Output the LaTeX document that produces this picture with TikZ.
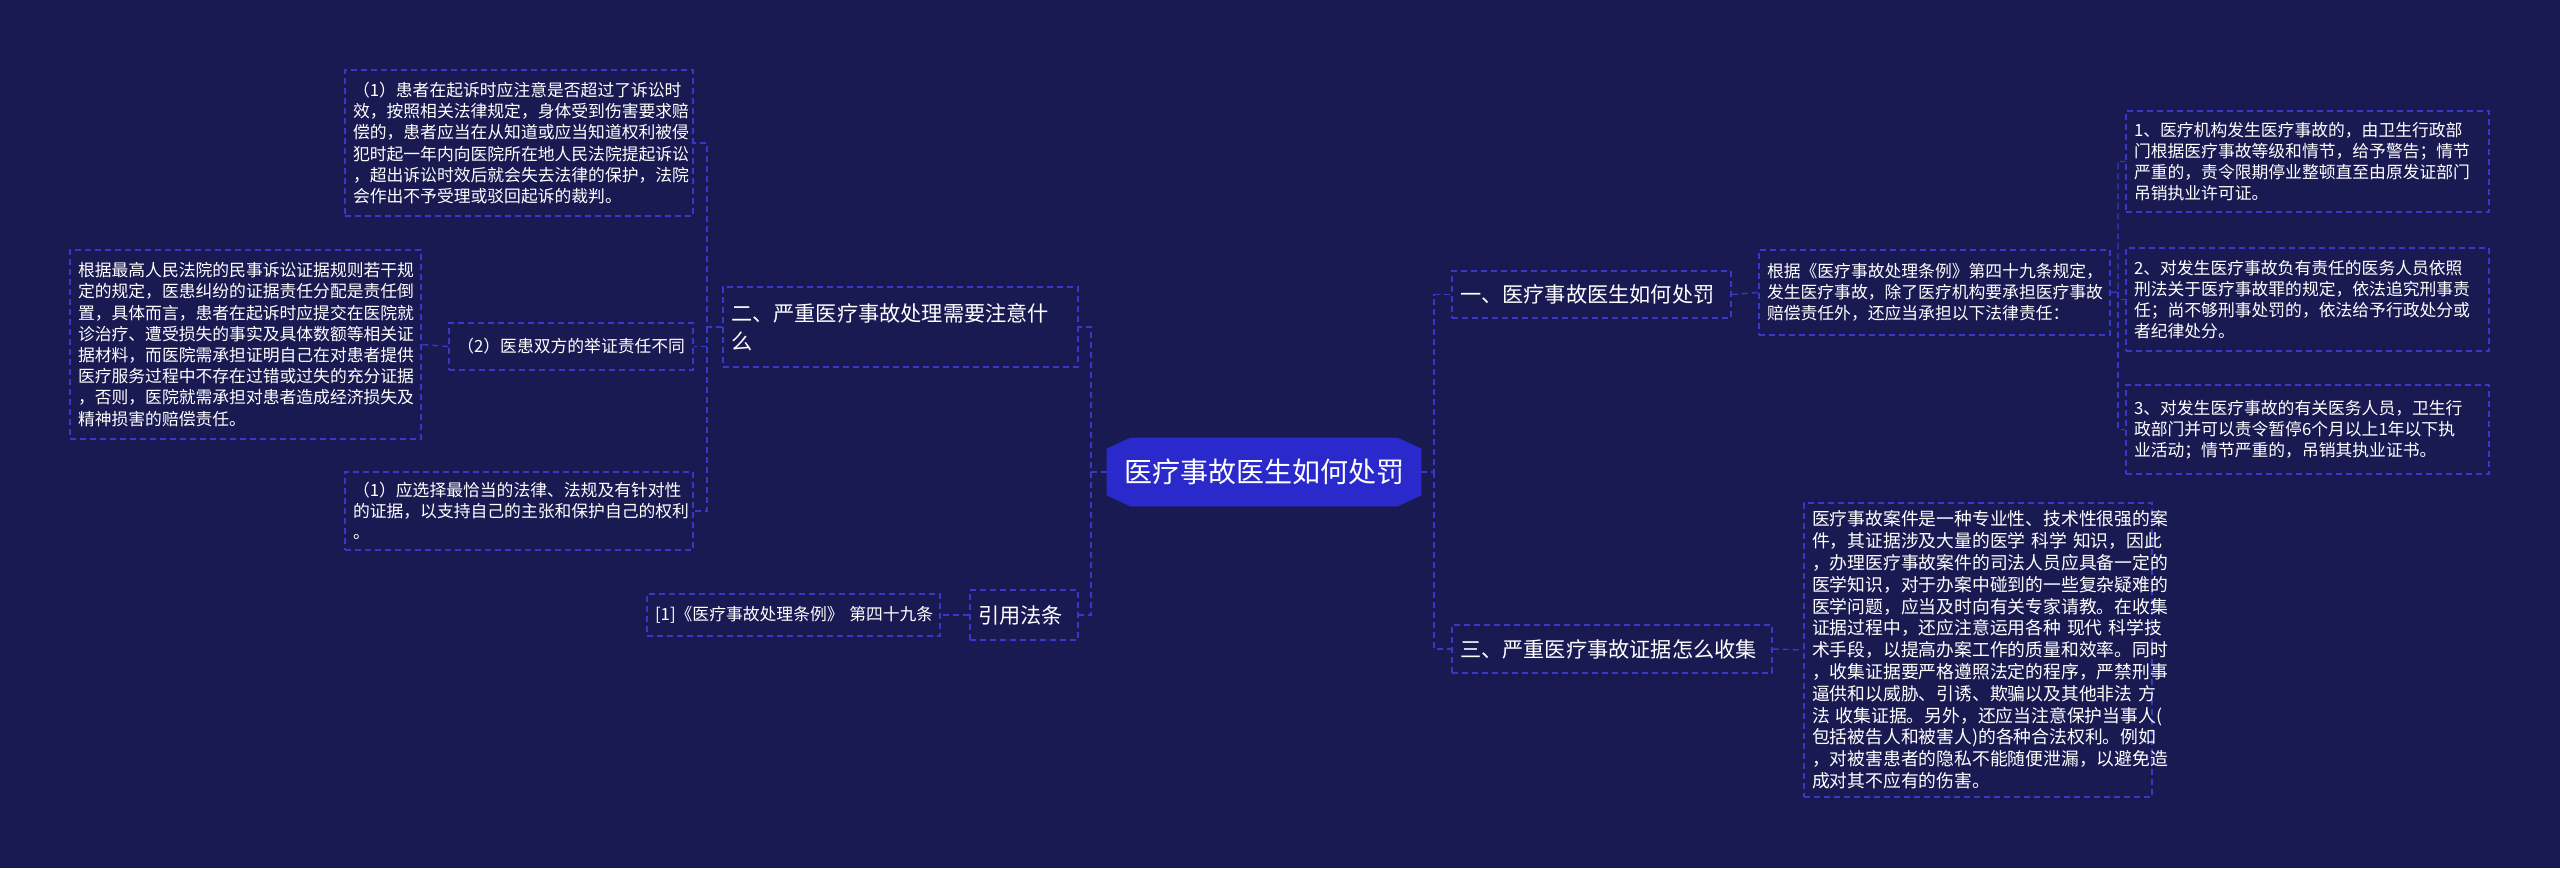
\documentclass[tikz,border=0pt]{standalone}
\usepackage{fontspec}
\setmainfont{Noto Sans CJK SC}
\usetikzlibrary{shapes.misc}
\definecolor{bg}{HTML}{1A1A52}
\definecolor{bd}{HTML}{3838C8}
\definecolor{cf}{HTML}{2A2ACC}
\tikzset{
 box/.style={draw=bd,dashed,dash pattern=on 3pt off 2pt,line width=0.7pt,text=white,align=left,inner sep=0pt,font=\fontsize{8.4}{10.6}\selectfont},
 big/.style={box,font=\fontsize{10.6}{14}\selectfont},
 conn/.style={draw=bd,dashed,dash pattern=on 3pt off 2pt,line width=0.7pt}
}
\newcommand{\bx}[7]{% name, x1,y1,x2,y2, style, text
 \node[#6,minimum width={(#4-#2)*0.5pt},minimum height={(#5-#3)*0.5pt},text width={(#4-#2)*0.5pt-8pt}] (#1) at ({(#2+#4)/2},{(#3+#5)/2}) {#7};}
\begin{document}
\begin{tikzpicture}[x=0.5pt,y=-0.5pt]
\fill[bg] (0,0) rectangle (2560,868);
\useasboundingbox (0,0) rectangle (2560,868);
\node[chamfered rectangle,chamfered rectangle xsep=4pt,chamfered rectangle angle=65,fill=cf,draw=cf,text=white,minimum width=157pt,minimum height=34pt,font=\fontsize{14}{16}\selectfont] (c) at (1264,472) {医疗事故医生如何处罚};
\bx{a}{723}{287}{1078}{367}{big}{二、严重医疗事故处理需要注意什\\么}
\bx{b}{970}{590}{1078}{640}{big}{引用法条}
\bx{d}{1452}{271}{1731}{318}{big}{一、医疗事故医生如何处罚}
\bx{e}{1452}{625}{1772}{673}{big}{三、严重医疗事故证据怎么收集}
\bx{a1}{345}{70}{693}{216}{box}{（1）患者在起诉时应注意是否超过了诉讼时\\效，按照相关法律规定，身体受到伤害要求赔\\偿的，患者应当在从知道或应当知道权利被侵\\犯时起一年内向医院所在地人民法院提起诉讼\\，超出诉讼时效后就会失去法律的保护，法院\\会作出不予受理或驳回起诉的裁判。}
\bx{a2}{449}{323}{693}{370}{box}{\hfill（2）医患双方的举证责任不同}
\bx{a2x}{70}{250}{421}{439}{box}{根据最高人民法院的民事诉讼证据规则若干规\\定的规定，医患纠纷的证据责任分配是责任倒\\置，具体而言，患者在起诉时应提交在医院就\\诊治疗、遭受损失的事实及具体数额等相关证\\据材料，而医院需承担证明自己在对患者提供\\医疗服务过程中不存在过错或过失的充分证据\\，否则，医院就需承担对患者造成经济损失及\\精神损害的赔偿责任。}
\bx{a3}{345}{472}{693}{550}{box}{（1）应选择最恰当的法律、法规及有针对性\\的证据，以支持自己的主张和保护自己的权利\\。}
\bx{b1}{647}{594}{940}{636}{box}{[1]《医疗事故处理条例》~第四十九条}
\bx{d1}{1759}{250}{2110}{335}{box}{根据《医疗事故处理条例》第四十九条规定，\\发生医疗事故，除了医疗机构要承担医疗事故\\赔偿责任外，还应当承担以下法律责任：}
\bx{d2}{2126}{111}{2489}{212}{box}{1、医疗机构发生医疗事故的，由卫生行政部\\门根据医疗事故等级和情节，给予警告；情节\\严重的，责令限期停业整顿直至由原发证部门\\吊销执业许可证。}
\bx{d3}{2126}{248}{2489}{351}{box}{2、对发生医疗事故负有责任的医务人员依照\\刑法关于医疗事故罪的规定，依法追究刑事责\\任；尚不够刑事处罚的，依法给予行政处分或\\者纪律处分。}
\bx{d4}{2126}{385}{2489}{474}{box}{3、对发生医疗事故的有关医务人员，卫生行\\政部门并可以责令暂停6个月以上1年以下执\\业活动；情节严重的，吊销其执业证书。}
\bx{e1}{1804}{503}{2152}{797}{box,font=\fontsize{8.9}{10.9}\selectfont}{医疗事故案件是一种专业性、技术性很强的案\\件，其证据涉及大量的医学~科学~知识，因此\\，办理医疗事故案件的司法人员应具备一定的\\医学知识，对于办案中碰到的一些复杂疑难的\\医学问题，应当及时向有关专家请教。在收集\\证据过程中，还应注意运用各种~现代~科学技\\术手段，以提高办案工作的质量和效率。同时\\，收集证据要严格遵照法定的程序，严禁刑事\\逼供和以威胁、引诱、欺骗以及其他非法~方\\法~收集证据。另外，还应当注意保护当事人(\\包括被告人和被害人)的各种合法权利。例如\\，对被害患者的隐私不能随便泄漏，以避免造\\成对其不应有的伤害。}
\coordinate (tl) at (1091,472);
\coordinate (tr) at (1434,472);
\coordinate (ta) at (707,327);
\coordinate (td) at (2118,292);
\path[conn] (c.west) -- (tl) |- (a.east);
\path[conn] (tl) |- (b.east);
\path[conn] (c.east) -- (tr) |- (d.west);
\path[conn] (tr) |- (e.west);
\path[conn] (a.west) -- (ta) |- (a1.east);
\path[conn] (ta) |- (a2.east);
\path[conn] (ta) |- (a3.east);
\path[conn] (a2.west) -- (a2x.east);
\path[conn] (b.west) -- (b1.east);
\path[conn] (d.east) -- (d1.west);
\path[conn] (d1.east) -- (td) |- (d2.west);
\path[conn] (td) |- (d3.west);
\path[conn] (td) |- (d4.west);
\path[conn] (e.east) -- (e1.west);
\end{tikzpicture}
\end{document}
